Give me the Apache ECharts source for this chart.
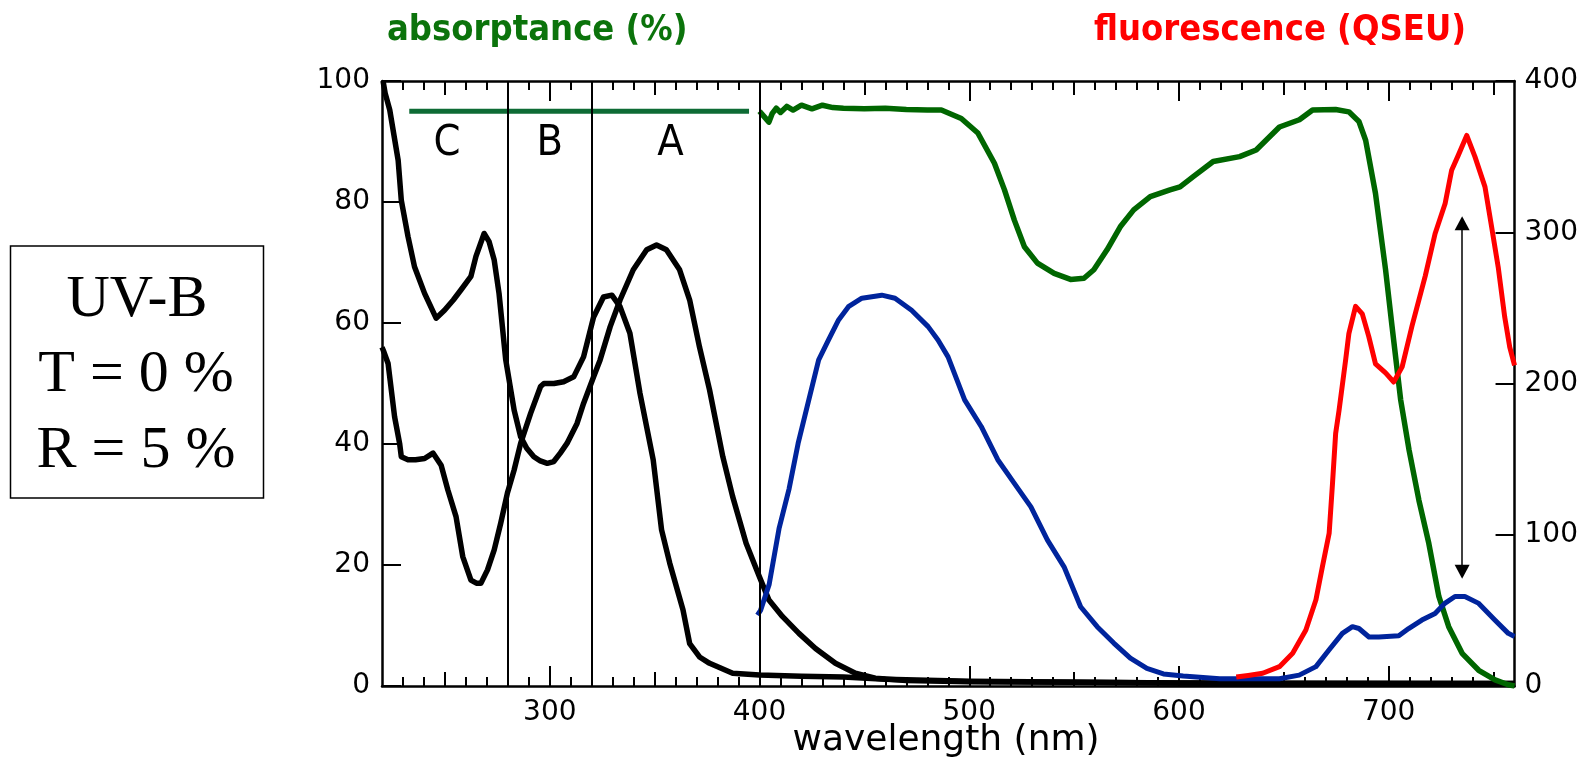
<!DOCTYPE html>
<html>
<head>
<meta charset="utf-8">
<script src="https://cdn.jsdelivr.net/npm/echarts@6/dist/echarts.min.js"></script>
<style>
  html, body { margin: 0; padding: 0; background: #fff; }
  #chart { width: 1581px; height: 759px; }
</style>
</head>
<body>
<div id="chart"></div>
<script>
// black curve with peaks near 268 and 351 nm (absorptance %)
const curveAWl = [220.5, 221.5, 223.7, 227.7, 229.2, 232.4, 235.5, 240.3, 245.8, 249.8, 254, 257.7, 262.4, 264.8, 268.7, 271,
  273.5, 275.8, 279, 283, 286.1, 289, 292.4, 295.5, 298.8, 301.9, 305, 308.2, 313, 316.1, 320.9, 324, 328.8, 333.5, 339.8,
  346.2, 350.9, 355.6, 361.9, 366.7, 371.4, 376.2, 382.5, 387.2, 393.6, 399.9, 404.5, 410.9, 418.8, 426.7, 436.2, 445.7,
  455.2, 470, 500, 550, 600, 650, 700, 760];
const curveAVal = [100, 98, 95.2, 86.9, 80.3, 74.3, 69.3, 64.9, 60.8, 62.1, 63.8, 65.5, 67.7, 71, 74.8, 73.5,
  70.4, 64.9, 53.9, 45.6, 41.2, 39.3, 37.9, 37.2, 36.8, 37.1, 38.5, 40.1, 43.4, 46.7, 51.1, 53.9, 59.4, 63.8, 68.8,
  72.1, 72.9, 72.1, 68.8, 63.8, 56, 48.9, 37.9, 31.3, 23.6, 18.1, 14.2, 11.5, 8.7, 6.2, 3.75, 2.1,
  1.3, 0.9, 0.7, 0.6, 0.5, 0.4, 0.4, 0.4];

// black curve with peak near 330 nm
const curveBWl = [220, 220.6, 222.9, 226, 228.4, 229.2, 232.4, 236, 240.3, 244.3, 248.2, 251.4, 255.3, 258.5, 262.4, 265,
  267.2, 270.3, 273.5, 276.6, 279.8, 283, 286.1, 290.9, 295.6, 297.2, 302, 306.6, 311.4, 316.1, 317.7, 320.9, 325.6,
  329.6, 333.5, 338.2, 343, 349.3, 353.3, 357.2, 363.5, 366.7, 371.4, 376.2, 387.2, 400, 420, 440, 460, 500, 600, 760];
const curveBVal = [56, 55.5, 53.3, 44.5, 40.1, 37.9, 37.4, 37.4, 37.6, 38.5, 36.5, 32.4, 28, 21.4, 17.5, 17,
  17, 19.2, 22.5, 26.9, 31.9, 35.7, 40.1, 45.1, 49.5, 50, 50, 50.3, 51.1, 54.4, 56.6, 61, 64.3,
  64.6, 62.7, 58.3, 48.4, 37.4, 25.8, 20.3, 12.6, 7, 4.8, 3.75, 2.1, 1.8, 1.6, 1.5, 1.1, 0.8, 0.5, 0.4];

// green absorptance curve
const absWl = [400, 402, 404.5, 406, 408, 410, 413, 416, 420, 425, 430, 435, 440, 450, 460, 470, 480, 486.7, 496.2, 504.1,
  512, 516.8, 521.5, 526.3, 532.5, 540.5, 548.3, 554.7, 559.4, 565.7, 572, 578.4, 586.3, 595.7, 600.5, 606.8, 616.3,
  628.9, 636.8, 647.9, 657.4, 663.7, 674.7, 681, 685.8, 689, 693.7, 698.5, 701.6, 705.7, 709.7, 714.4, 719.1, 723.9,
  728.6, 735, 742.9, 750.7, 757, 760];
const absVal = [95, 94.2, 93.2, 94.6, 95.5, 94.8, 95.8, 95.2, 96, 95.4, 96, 95.6, 95.5, 95.4, 95.5, 95.3, 95.2, 95.2, 93.8, 91.4,
  86.4, 82, 77, 72.6, 69.9, 68.2, 67.2, 67.4, 68.8, 72.1, 75.9, 78.7, 80.9, 82, 82.5, 84.2, 86.7,
  87.5, 88.6, 92.4, 93.6, 95.2, 95.3, 94.9, 93.3, 90.2, 81.4, 68.8, 59.4, 47.3, 39, 30.7, 23.6, 14.8,
  9.8, 5.4, 2.6, 1, 0.2, 0];

// blue curve
const blueWl = [399, 400.5, 404.6, 409.3, 414.1, 418.4, 423.5, 428.2, 432.9, 437.7, 442.4, 448.8, 458.3, 464.6, 472.5, 480.4,
  485.1, 489.9, 497.8, 505.7, 513.6, 521.5, 529.4, 537.3, 545.2, 553.1, 561, 568.9, 576.8, 584.7, 592.6, 602, 619.4,
  632, 647.9, 657.3, 665.3, 671.6, 677.9, 682.7, 685.8, 690.6, 695.3, 704.8, 709.5, 715.8, 722.1, 726.9, 731.6, 736.3,
  742.7, 750.6, 757, 760];
const blueVal = [11.7, 12.5, 16.8, 26, 32.6, 40.1, 47.3, 53.9, 57.2, 60.5, 62.7, 64.1, 64.6, 64.1, 62.1, 59.4,
  57.2, 54.4, 47.3, 42.9, 37.4, 33.5, 29.6, 24.1, 19.7, 13.1, 9.8, 7.1, 4.6, 2.9, 2, 1.65, 1.2,
  1.2, 1.2, 1.8, 3.2, 6, 8.7, 9.8, 9.5, 8.1, 8.1, 8.3, 9.5, 10.9, 12, 13.7, 14.8, 14.8,
  13.7, 10.9, 8.7, 8.2];

// red fluorescence curve (QSEU, right axis)
const fluoWl = [627.3, 633, 639.9, 647.9, 654.2, 660.5, 665.3, 668.4, 671.6, 673.2, 674.7, 676.3, 679.5, 681, 684.2, 687.4,
  690.5, 693.7, 698.5, 702.4, 706.4, 711.1, 717.4, 722.1, 726.9, 730, 733.2, 737.2, 741.1, 745.9, 749, 752.2, 755.3,
  757.7, 760];
const fluoVal = [6, 7, 8.4, 12.8, 21.6, 37, 57, 79, 101, 134, 167, 182, 216, 233, 251, 246,
  231, 213, 207, 201, 211, 238, 271, 299, 319, 341, 351, 364, 350, 330, 304, 277, 244,
  224, 212];

// UV bands
const bandEdges = [280, 320, 400];
const bandNames = ['C', 'B', 'A'];
const bandCenters = [251, 300, 357.5];
const bandLabelLevel = 89.6;
const bandBarWl = [233, 395];
const bandBarLevel = 95;

// double arrow at 735 nm
const arrowWl = 735;
const arrowEnds = [76.5, 18.9];

// axes
const xMin = 220, xMax = 760;
const xMajor = [300, 400, 500, 600, 700];
const xMid = [250, 350, 450, 550, 650, 750];
const xMinor = [];
for (let v = 230; v <= 750; v += 10) xMinor.push(v);

const zip = (a, b) => a.map((x, i) => [x, b[i]]);

const tickFont = 'DejaVu Sans';
const chart = echarts.init(document.getElementById('chart'));

function xAxisDef(pos, ticks, len, withLabel, withLine) {
  return {
    type: 'value', position: pos, min: xMin, max: xMax,
    axisLine: { show: withLine, onZero: false, lineStyle: { color: '#000', width: 2.5 } },
    axisTick: { show: true, inside: true, customValues: ticks, length: len, lineStyle: { color: '#000', width: 2 } },
    axisLabel: withLabel
      ? { show: true, customValues: xMajor, color: '#000', fontSize: 28, fontFamily: tickFont, margin: 13 }
      : { show: false },
    splitLine: { show: false }
  };
}

chart.setOption({
  animation: false,
  backgroundColor: '#fff',
  grid: { left: 382, right: 65, top: 81, bottom: 73 },
  xAxis: [
    xAxisDef('bottom', xMajor, 20, true, true),
    xAxisDef('bottom', xMid, 14, false, false),
    xAxisDef('bottom', xMinor, 9, false, false),
    xAxisDef('top', xMajor, 20, false, true),
    xAxisDef('top', xMid, 14, false, false),
    xAxisDef('top', xMinor, 9, false, false)
  ],
  yAxis: [
    {
      type: 'value', position: 'left', min: 0, max: 100, interval: 20,
      axisLine: { show: true, lineStyle: { color: '#000', width: 2.5 } },
      axisTick: { show: true, inside: true, length: 19, lineStyle: { color: '#000', width: 2 } },
      axisLabel: { color: '#000', fontSize: 28, fontFamily: tickFont, margin: 12 },
      splitLine: { show: false }
    },
    {
      type: 'value', position: 'right', min: 0, max: 400, interval: 100,
      axisLine: { show: true, lineStyle: { color: '#000', width: 2.5 } },
      axisTick: { show: true, inside: true, length: 19, lineStyle: { color: '#000', width: 2 } },
      axisLabel: { color: '#000', fontSize: 28, fontFamily: tickFont, margin: 10 },
      splitLine: { show: false }
    }
  ],
  graphic: [
    {
      type: 'text', x: 387, y: 31,
      style: { text: 'absorptance (%)', fill: '#0b730b', font: 'bold 36px "DejaVu Sans Condensed", "DejaVu Sans"', textVerticalAlign: 'middle' }
    },
    {
      type: 'text', x: 1466, y: 31,
      style: { text: 'fluorescence (QSEU)', fill: '#ff0000', font: 'bold 36px "DejaVu Sans Condensed", "DejaVu Sans"', textAlign: 'right', textVerticalAlign: 'middle' }
    },
    {
      type: 'text', x: 946, y: 741,
      style: { text: 'wavelength (nm)', fill: '#000', font: '36px "DejaVu Sans"', textAlign: 'center', textVerticalAlign: 'middle' }
    },
    {
      type: 'rect', shape: { x: 10.5, y: 246, width: 253, height: 252 },
      style: { fill: '#fff', stroke: '#000', lineWidth: 1.5 }
    },
    {
      type: 'text', x: 137, y: 300,
      style: { text: 'UV-B', fill: '#000', font: '60px "Liberation Serif"', textAlign: 'center', textVerticalAlign: 'middle' }
    },
    {
      type: 'text', x: 136, y: 375,
      style: { text: 'T = 0 %', fill: '#000', font: '60px "Liberation Serif"', textAlign: 'center', textVerticalAlign: 'middle' }
    },
    {
      type: 'text', x: 136, y: 451,
      style: { text: 'R = 5 %', fill: '#000', font: '60px "Liberation Serif"', textAlign: 'center', textVerticalAlign: 'middle' }
    }
  ],
  series: [
    {
      name: 'band bar', type: 'line', xAxisIndex: 0, yAxisIndex: 0,
      data: bandBarWl.map(w => [w, bandBarLevel]),
      showSymbol: false, lineStyle: { color: '#0e6b35', width: 5 },
      markLine: {
        silent: true, symbol: 'none', label: { show: false },
        lineStyle: { color: '#000', width: 2, type: 'solid' },
        data: bandEdges.map(v => ({ xAxis: v }))
      }
    },
    {
      name: 'bands', type: 'scatter', xAxisIndex: 0, yAxisIndex: 0,
      data: bandCenters.map((w, i) => ({ value: [w, bandLabelLevel], name: bandNames[i] })),
      symbolSize: 1, itemStyle: { opacity: 0 },
      label: { show: true, position: 'inside', formatter: '{b}', color: '#000', opacity: 1, fontSize: 43, fontFamily: '"DejaVu Sans Condensed", "DejaVu Sans"' }
    },
    {
      name: 'curve A', type: 'line', xAxisIndex: 0, yAxisIndex: 0,
      data: zip(curveAWl, curveAVal), showSymbol: false,
      lineStyle: { color: '#000', width: 5.5, join: 'round' }
    },
    {
      name: 'curve B', type: 'line', xAxisIndex: 0, yAxisIndex: 0,
      data: zip(curveBWl, curveBVal), showSymbol: false,
      lineStyle: { color: '#000', width: 5.5, join: 'round' }
    },
    {
      name: 'absorptance', type: 'line', xAxisIndex: 0, yAxisIndex: 0,
      data: zip(absWl, absVal), showSymbol: false,
      lineStyle: { color: '#006600', width: 5.5, join: 'round' }
    },
    {
      name: 'blue', type: 'line', xAxisIndex: 0, yAxisIndex: 0,
      data: zip(blueWl, blueVal), showSymbol: false,
      lineStyle: { color: '#00249c', width: 5, join: 'round' }
    },
    {
      name: 'fluorescence', type: 'line', xAxisIndex: 0, yAxisIndex: 1,
      data: zip(fluoWl, fluoVal), showSymbol: false,
      lineStyle: { color: '#ff0000', width: 5, join: 'round' },
      markLine: {
        silent: true, symbol: ['triangle', 'triangle'], symbolSize: [15, 14], label: { show: false },
        lineStyle: { color: '#000', width: 1.5, type: 'solid' },
        data: [[
          { coord: [arrowWl, arrowEnds[0] * 4] },
          { coord: [arrowWl, arrowEnds[1] * 4] }
        ]]
      }
    }
  ]
});
</script>
</body>
</html>
